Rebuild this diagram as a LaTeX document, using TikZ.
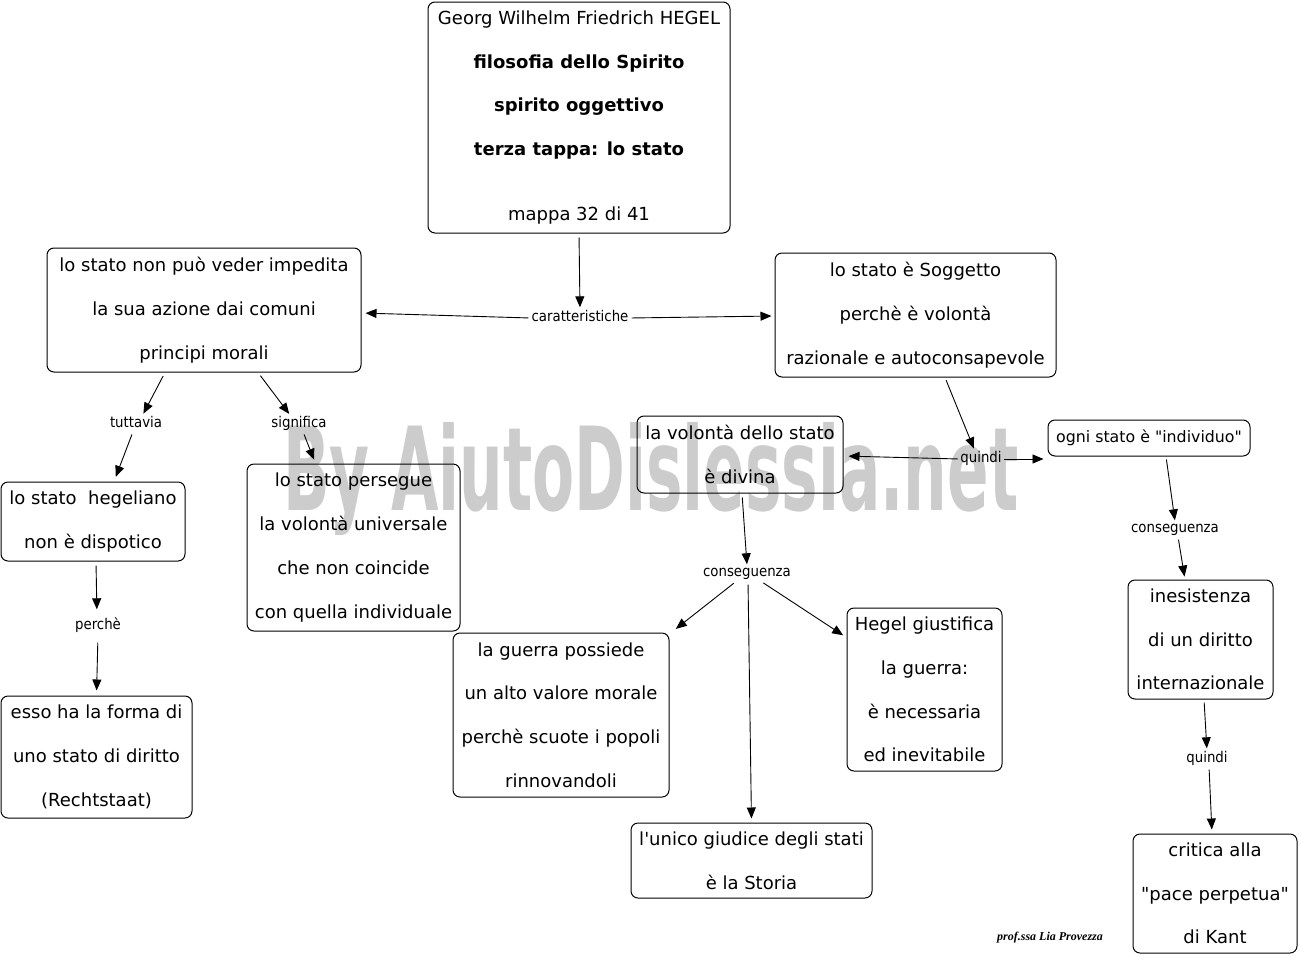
\documentclass[tikz,border=0pt]{standalone}
\usepackage{fontspec}
\usepackage{graphicx}
\usetikzlibrary{arrows.meta,calc}
\newfontfamily\vfont{DejaVu Sans}
\newfontfamily\cfont{DejaVu Sans Condensed}
\newfontfamily\sigfont{Liberation Serif}
\definecolor{wmgray}{RGB}{204,204,204}
\begin{document}
\begin{tikzpicture}[x=1pt,y=-1pt,
  box/.style={draw, line width=1pt, rounded corners=7pt, align=center, inner sep=0pt,
    font=\vfont\fontsize{18}{43.7}\selectfont},
  lab/.style={font=\cfont\fontsize{14.8}{16}\selectfont, inner sep=1pt, text height=10pt, text depth=3pt},
  arr/.style={-{Triangle[length=11pt,width=9pt]}, line width=0.9pt}]
\fill[white] (0,0) rectangle (1300,956);
\useasboundingbox (0,0) rectangle (1300,956);
% watermark
\node[text=wmgray, inner sep=0pt, anchor=base west] (wm) at (283,510)
  {\resizebox{735pt}{88pt}{\cfont\bfseries By AiutoDislessia.net}};
% boxes
\node[box, minimum width=302, minimum height=231] (T) at (579,117.5)
  {Georg Wilhelm Friedrich HEGEL\\ \textbf{filosofia dello Spirito}\\ \textbf{spirito oggettivo}\\ \textbf{terza tappa: lo stato}\\[21pt] mappa 32 di 41};
\node[box, minimum width=314, minimum height=124] (A) at (204,310)
  {lo stato non può veder impedita\\ la sua azione dai comuni\\ principi morali};
\node[box, minimum width=281, minimum height=124] (B) at (915.5,315)
  {lo stato è Soggetto\\ perchè è volontà\\ razionale e autoconsapevole};
\node[box, minimum width=184, minimum height=79] (C) at (93,521.5)
  {lo stato\ \ hegeliano\\ non è dispotico};
\node[box, minimum width=213, minimum height=167] (D) at (353.5,547.5)
  {lo stato persegue\\ la volontà universale\\ che non coincide\\ con quella individuale};
\node[box, minimum width=206, minimum height=77] (E) at (740,454.5)
  {la volontà dello stato\\ è divina};
\node[box, minimum width=202, minimum height=36, font=\vfont\fontsize{15.8}{20}\selectfont] (F) at (1149,438)
  {ogni stato è "individuo"};
\node[box, minimum width=191, minimum height=122] (G) at (96.5,757)
  {esso ha la forma di\\ uno stato di diritto\\ (Rechtstaat)};
\node[box, minimum width=216, minimum height=164] (H) at (561,715)
  {la guerra possiede\\ un alto valore morale\\ perchè scuote i popoli\\ rinnovandoli};
\node[box, minimum width=155, minimum height=163] (I) at (924.5,689.5)
  {Hegel giustifica\\ la guerra:\\ è necessaria\\ ed inevitabile};
\node[box, minimum width=241, minimum height=75] (J) at (751.5,860.5)
  {l\textquotesingle unico giudice degli stati\\ è la Storia};
\node[box, minimum width=145, minimum height=119] (K) at (1200.5,639.5)
  {inesistenza\\ di un diritto\\ internazionale};
\node[box, minimum width=164, minimum height=119] (L) at (1215,893.5)
  {critica alla\\ "pace perpetua"\\ di Kant};
% labels
\node[lab] (cara) at (580,318) {caratteristiche};
\node[lab] (tut) at (136,424) {tuttavia};
\node[lab] (sig) at (299,424) {significa};
\node[lab] (per) at (98,626) {perchè};
\node[lab] (qu1) at (981,459) {quindi};
\node[lab] (con1) at (747,573) {conseguenza};
\node[lab] (con2) at (1175,529) {conseguenza};
\node[lab] (qu2) at (1207,759) {quindi};
% signature
\node[inner sep=0pt] (firma) at (1050,938)
  {\sigfont\bfseries\itshape\fontsize{12}{13}\selectfont prof.ssa Lia Provezza};
% connectors
\draw[arr, shorten <=4pt, shorten >=3pt] (T.south) -- (cara.north);
\draw[arr, shorten <=2pt, shorten >=4pt] (cara.west) -- ([yshift=-3pt]A.east);
\draw[arr, shorten <=2pt, shorten >=3pt] (cara.east) -- ([yshift=-1pt]B.west);
\draw[arr, shorten <=4pt, shorten >=3pt] ([xshift=-39pt]A.south) -- ([xshift=6pt]tut.north);
\draw[arr, shorten <=3pt, shorten >=5pt] ([xshift=-3pt]tut.south) -- ([xshift=21pt]C.north);
\draw[arr, shorten <=4pt, shorten >=3pt] ([xshift=54pt]A.south) -- ([xshift=-8pt]sig.north);
\draw[arr, shorten <=3pt, shorten >=4pt] ([xshift=4pt]sig.south) -- ([xshift=-38pt]D.north);
\draw[arr, shorten <=4pt, shorten >=9pt] ([xshift=3pt]C.south) -- ([xshift=-1pt]per.north);
\draw[arr, shorten <=9pt, shorten >=5pt] (per.south) -- (G.north);
\draw[arr, shorten <=3pt, shorten >=3pt] ([xshift=29.5pt]B.south) -- ([xshift=-6pt]qu1.north);
\draw[arr, shorten <=1pt, shorten >=5pt] (qu1.west) -- ([yshift=-1.5pt]E.east);
\draw[arr, shorten <=1pt, shorten >=4pt] (qu1.east) -- ([yshift=-21pt]F.west);
\draw[arr, shorten <=4pt, shorten >=1pt] ([xshift=2pt]E.south) -- (con1.north);
\draw[arr, shorten <=4pt, shorten >=1pt] ([xshift=-10pt]con1.south) -- ([xshift=114pt,yshift=3pt]H.north);
\draw[arr, shorten <=4pt, shorten >=4pt] ([xshift=1pt]con1.south) -- (J.north);
\draw[arr, shorten <=4pt, shorten >=4pt] ([xshift=13pt]con1.south) -- ([yshift=52pt]I.west);
\draw[arr, shorten <=3pt, shorten >=1pt] ([xshift=17pt]F.south) -- (con2.north);
\draw[arr, shorten <=3pt, shorten >=3pt] ([xshift=3pt]con2.south) -- ([xshift=-15.5pt]K.north);
\draw[arr, shorten <=3pt, shorten >=3pt] ([xshift=3.5pt]K.south) -- (qu2.north);
\draw[arr, shorten <=3pt, shorten >=4pt] ([xshift=2pt]qu2.south) -- ([xshift=-3pt]L.north);
\end{tikzpicture}
\end{document}
